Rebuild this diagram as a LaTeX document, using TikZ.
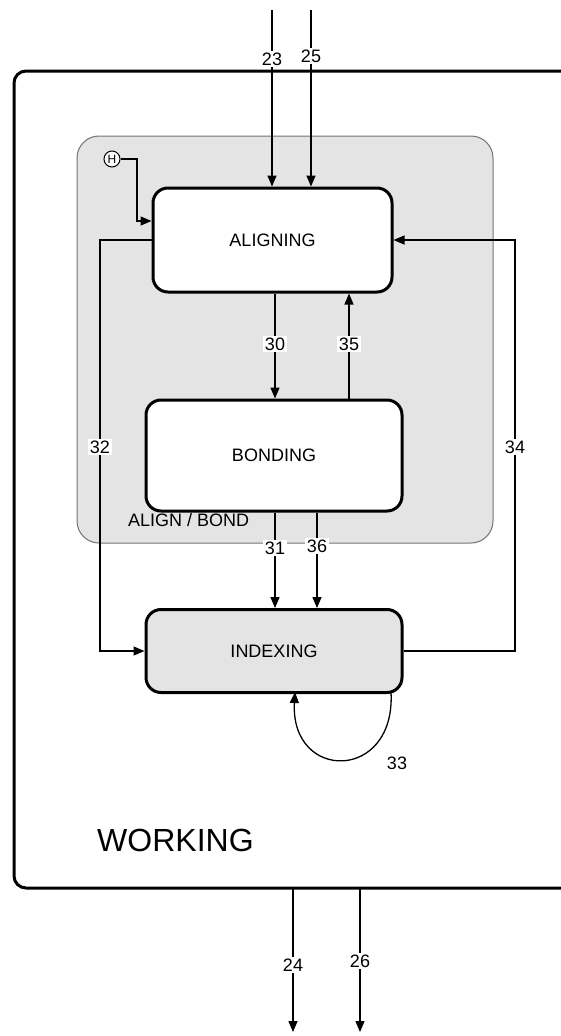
\documentclass[tikz,border=0pt]{standalone}
\usepackage{fontspec}
\setmainfont{Liberation Sans}
\usetikzlibrary{arrows.meta}
\definecolor{regiongray}{HTML}{E4E4E4}
\tikzset{
  arr/.style={line width=1.3pt,-{Triangle[width=9pt,length=11pt]}},
  wire/.style={line width=1.3pt},
  statebox/.style={draw,line width=3pt,rounded corners=15pt,fill=white,inner sep=0pt,font=\fontsize{18}{21}\selectfont},
  lbl/.style={fill=white,inner sep=1.5pt,font=\fontsize{18}{21}\selectfont},
  plainlbl/.style={inner sep=1pt,font=\fontsize{18}{21}\selectfont}
}
\begin{document}
\begin{tikzpicture}[x=1pt,y=-1pt]
\useasboundingbox (0,0) rectangle (561,1036);
\clip (0,0) rectangle (561,1036);
% WORKING outer state
\draw[line width=3pt,rounded corners=12pt] (14,71) rectangle (620,888);
\node[font=\fontsize{32}{36}\selectfont,anchor=west,inner sep=0pt] (wlab) at (97,840) {WORKING};
% ALIGN/BOND region
\draw[fill=regiongray,draw=black!55,line width=1pt,rounded corners=22pt] (77,136) rectangle (493,543);
\node[font=\fontsize{18}{21}\selectfont,anchor=west,inner sep=0pt] (ablab) at (128,520) {ALIGN / BOND};
% states
\node[statebox,minimum width=239pt,minimum height=104pt] (al) at (272.5,240) {ALIGNING};
\node[statebox,minimum width=256pt,minimum height=111pt] (bo) at (274,455.5) {BONDING};
\node[statebox,fill=regiongray,minimum width=256pt,minimum height=83pt] (ix) at (274,651) {INDEXING};
% history
\node[draw,circle,fill=white,line width=1pt,minimum size=16pt,inner sep=0pt,font=\fontsize{12}{13}\selectfont] (h) at (112,159) {H};
\draw[arr] (h.east) -- (137,159) -- (137,221) -- (al.west |- 0,221);
% external incoming
\coordinate (s23) at (272,10);
\coordinate (s25) at (311,10);
\draw[arr] (s23) -- (s23 |- al.north);
\draw[arr] (s25) -- (s25 |- al.north);
\node[lbl] (l23) at (272,59) {23};
\node[lbl] (l25) at (311,56) {25};
% 30 / 35
\coordinate (c30) at (275,0);
\coordinate (c35) at (349,0);
\draw[arr] (c30 |- al.south) -- (c30 |- bo.north);
\draw[arr] (c35 |- bo.north) -- (c35 |- al.south);
\node[lbl] (l30) at (275,344) {30};
\node[lbl] (l35) at (349,344) {35};
% 31 / 36
\coordinate (c31) at (275,0);
\coordinate (c36) at (317,0);
\draw[arr] (c31 |- bo.south) -- (c31 |- ix.north);
\draw[arr] (c36 |- bo.south) -- (c36 |- ix.north);
\node[lbl] (l31) at (275,548) {31};
\node[lbl] (l36) at (317,546) {36};
% 32
\draw[arr] (al.west) -- (100,240) -- (100,651) -- (ix.west);
\node[lbl] (l32) at (100,447) {32};
% 34
\draw[arr] (ix.east) -- (515,651) -- (515,240) -- (al.east);
\node[lbl] (l34) at (515,447) {34};
% 33 self loop
\coordinate (p33a) at (391,692);
\coordinate (p33b) at (295,692);
\draw[arr] (p33a) .. controls (396,782) and (290,782) .. (p33b);
\node[plainlbl] (l33) at (397,763) {33};
% outgoing
\coordinate (e24) at (293,1032);
\coordinate (e26) at (360,1032);
\draw[arr] (e24 |- 0,888) -- (e24);
\draw[arr] (e26 |- 0,888) -- (e26);
\node[lbl] (l24) at (293,965) {24};
\node[lbl] (l26) at (360,961) {26};
\end{tikzpicture}
\end{document}
